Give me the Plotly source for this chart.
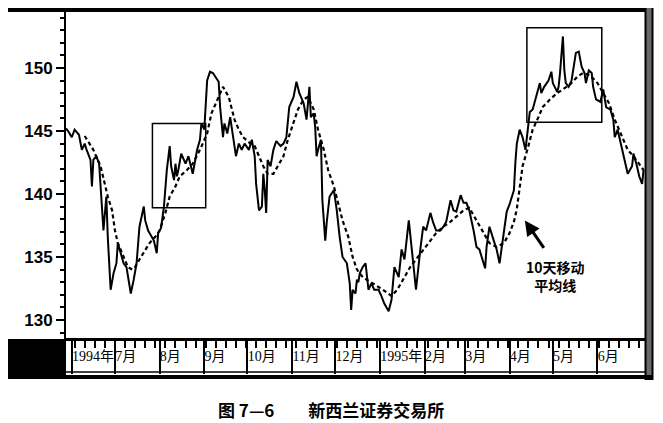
import plotly.graph_objects as go

# ---------------- data ----------------
price_dates = [
    "1994-05-28", "1994-05-30",
    "1994-06-01", "1994-06-03", "1994-06-06", "1994-06-08", "1994-06-10", "1994-06-11", "1994-06-14", "1994-06-15",
    "1994-06-16", "1994-06-18", "1994-06-20", "1994-06-22", "1994-06-23", "1994-06-25", "1994-06-26", "1994-06-28", "1994-06-30",
    "1994-07-02", "1994-07-03", "1994-07-05", "1994-07-07", "1994-07-09", "1994-07-12", "1994-07-14", "1994-07-16",
    "1994-07-18", "1994-07-21", "1994-07-22", "1994-07-24", "1994-07-28", "1994-07-30", "1994-07-31",
    "1994-08-02", "1994-08-04", "1994-08-06", "1994-08-08", "1994-08-09", "1994-08-11", "1994-08-12", "1994-08-13",
    "1994-08-14", "1994-08-16", "1994-08-19", "1994-08-21", "1994-08-24", "1994-08-27", "1994-08-29", "1994-08-30",
    "1994-09-01", "1994-09-03", "1994-09-05", "1994-09-07", "1994-09-10", "1994-09-11", "1994-09-12", "1994-09-13", "1994-09-14",
    "1994-09-15", "1994-09-17", "1994-09-19", "1994-09-20", "1994-09-21", "1994-09-23", "1994-09-25", "1994-09-27", "1994-09-29",
    "1994-10-02", "1994-10-04", "1994-10-05", "1994-10-06", "1994-10-07", "1994-10-09", "1994-10-11", "1994-10-12", "1994-10-13",
    "1994-10-14", "1994-10-15", "1994-10-17", "1994-10-19", "1994-10-21", "1994-10-24", "1994-10-26", "1994-10-28", "1994-10-30",
    "1994-11-02", "1994-11-04", "1994-11-06", "1994-11-09", "1994-11-11", "1994-11-13", "1994-11-14", "1994-11-16", "1994-11-17",
    "1994-11-18", "1994-11-19", "1994-11-21", "1994-11-22", "1994-11-24", "1994-11-25", "1994-11-27", "1994-11-30",
    "1994-12-02", "1994-12-04", "1994-12-06", "1994-12-09", "1994-12-11", "1994-12-12", "1994-12-13", "1994-12-15", "1994-12-16",
    "1994-12-17", "1994-12-18", "1994-12-20", "1994-12-22", "1994-12-24", "1994-12-26", "1994-12-28", "1994-12-31",
    "1995-01-02", "1995-01-04", "1995-01-07", "1995-01-09", "1995-01-11", "1995-01-14", "1995-01-16", "1995-01-18",
    "1995-01-21", "1995-01-23", "1995-01-24", "1995-01-26", "1995-01-29", "1995-01-31",
    "1995-02-02", "1995-02-05", "1995-02-07", "1995-02-09", "1995-02-12", "1995-02-14", "1995-02-16", "1995-02-19",
    "1995-02-21", "1995-02-23", "1995-02-26", "1995-02-28",
    "1995-03-02", "1995-03-04", "1995-03-07", "1995-03-09", "1995-03-11", "1995-03-14", "1995-03-15", "1995-03-16",
    "1995-03-18", "1995-03-21", "1995-03-23", "1995-03-25", "1995-03-28", "1995-03-30",
    "1995-04-01", "1995-04-04", "1995-04-05", "1995-04-06", "1995-04-08", "1995-04-10", "1995-04-12", "1995-04-14", "1995-04-15",
    "1995-04-17", "1995-04-19", "1995-04-20", "1995-04-22", "1995-04-23", "1995-04-25", "1995-04-28", "1995-04-30",
    "1995-05-01", "1995-05-04", "1995-05-05", "1995-05-06", "1995-05-08", "1995-05-09", "1995-05-10", "1995-05-12", "1995-05-14",
    "1995-05-16", "1995-05-17", "1995-05-19", "1995-05-21", "1995-05-23", "1995-05-24", "1995-05-26", "1995-05-28", "1995-05-29",
    "1995-05-31",
    "1995-06-03", "1995-06-05", "1995-06-07", "1995-06-10", "1995-06-12", "1995-06-13", "1995-06-15", "1995-06-18",
    "1995-06-20", "1995-06-22", "1995-06-25", "1995-06-26", "1995-06-28", "1995-06-30",
    "1995-07-02", "1995-07-03",
]
price_values = [
    145.2, 144.9,
    144.5, 145.1, 144.7, 143.5, 144.0, 143.6, 142.7, 140.6,
    142.7, 143.0, 142.4, 138.2, 137.1, 139.8, 136.6, 132.4, 133.7,
    134.5, 136.1, 135.3, 134.5, 134.2, 132.1, 133.2, 134.5,
    137.4, 139.0, 137.9, 137.1, 136.3, 135.3, 136.9,
    137.3, 139.0, 141.9, 143.8, 142.2, 141.1, 142.4, 141.4,
    141.9, 143.2, 142.4, 143.0, 141.6, 143.5, 144.3, 145.6,
    145.1, 149.0, 149.7, 149.6, 149.0, 148.9, 146.9, 145.3, 144.5,
    145.6, 144.8, 146.1, 145.3, 144.5, 143.0, 144.0, 143.5, 144.0,
    143.5, 144.3, 143.5, 143.0, 140.8, 138.7, 139.0, 141.6, 140.3,
    138.5, 142.7, 142.2, 143.5, 144.2, 143.8, 144.0, 144.5, 146.9,
    147.7, 148.9, 148.0, 147.2, 145.9, 148.5, 146.1, 146.4, 145.3,
    143.0, 143.5, 144.3, 139.5, 136.3, 137.7, 139.8, 140.3,
    138.7, 136.6, 135.0, 134.5, 132.9, 130.8, 132.4, 132.1, 133.2,
    133.0, 133.7, 134.2, 134.5, 132.4, 132.9, 132.4, 132.4,
    131.9, 131.3, 130.7, 131.6, 134.2, 133.4, 135.6, 134.8,
    137.9, 135.6, 134.8, 132.4, 135.6, 137.4,
    137.1, 138.5, 137.7, 137.1, 137.1, 137.4, 137.8, 139.5,
    138.7, 138.6, 139.9, 139.3,
    139.3, 138.7, 137.1, 135.8, 135.6, 134.5, 134.1, 135.8,
    137.4, 136.3, 135.6, 134.5, 136.9, 138.6,
    139.2, 140.3, 142.5, 144.0, 145.1, 144.5, 143.5, 145.3, 146.5,
    146.7, 147.5, 148.1, 148.8, 148.0, 148.5, 149.0, 149.7,
    148.8, 148.1, 148.5, 149.6, 152.5, 149.8, 148.8, 148.5, 149.0,
    150.4, 151.2, 151.3, 150.1, 149.6, 148.8, 149.8, 149.6, 148.5,
    147.5,
    147.3, 148.3, 146.9, 146.7, 145.9, 144.5, 145.1, 143.5,
    142.4, 141.6, 142.2, 143.2, 142.4, 141.4,
    140.8, 141.9,
]

ma_dates = [
    "1994-06-10", "1994-06-16", "1994-06-21", "1994-06-24", "1994-06-26", "1994-06-29",
    "1994-07-01", "1994-07-03", "1994-07-06", "1994-07-08", "1994-07-10", "1994-07-13", "1994-07-15",
    "1994-07-18", "1994-07-22", "1994-07-25", "1994-07-29",
    "1994-08-01", "1994-08-05", "1994-08-08", "1994-08-12", "1994-08-15", "1994-08-20", "1994-08-24", "1994-08-29",
    "1994-09-03", "1994-09-06", "1994-09-10", "1994-09-14", "1994-09-18", "1994-09-20", "1994-09-22", "1994-09-25", "1994-09-28",
    "1994-10-03", "1994-10-06", "1994-10-09", "1994-10-12", "1994-10-15", "1994-10-19", "1994-10-22", "1994-10-26", "1994-10-29",
    "1994-11-02", "1994-11-05", "1994-11-09", "1994-11-12", "1994-11-16", "1994-11-19", "1994-11-23", "1994-11-26", "1994-11-30",
    "1994-12-03", "1994-12-06", "1994-12-10", "1994-12-13", "1994-12-16", "1994-12-20", "1994-12-27",
    "1995-01-03", "1995-01-09", "1995-01-13", "1995-01-17", "1995-01-22", "1995-01-26", "1995-01-31",
    "1995-02-05", "1995-02-09", "1995-02-14", "1995-02-19", "1995-02-23", "1995-02-28",
    "1995-03-04", "1995-03-09", "1995-03-14", "1995-03-18", "1995-03-23", "1995-03-28",
    "1995-04-01", "1995-04-04", "1995-04-06", "1995-04-08", "1995-04-10", "1995-04-14", "1995-04-17", "1995-04-21",
    "1995-04-24", "1995-04-29",
    "1995-05-04", "1995-05-08", "1995-05-13", "1995-05-18", "1995-05-22", "1995-05-27",
    "1995-06-01", "1995-06-05", "1995-06-09", "1995-06-13", "1995-06-17", "1995-06-22", "1995-06-26",
    "1995-07-01", "1995-07-03",
]
ma_values = [
    144.6, 143.5, 142.2, 140.8, 139.8, 138.7,
    137.1, 136.1, 135.3, 134.8, 134.2, 134.0, 134.2,
    134.8, 135.6, 136.1, 136.6,
    137.1, 138.5, 139.8, 140.6, 141.4, 141.9, 142.4, 143.5,
    144.8, 146.4, 147.5, 148.5, 147.7, 146.9, 145.9, 145.1, 144.5,
    144.0, 143.8, 143.0, 142.2, 141.6, 141.6, 142.2, 143.0, 144.3,
    145.6, 146.7, 147.5, 147.7, 146.7, 145.1, 143.5, 141.9, 140.6,
    139.3, 137.9, 136.6, 135.0, 134.0, 133.4, 132.9,
    132.4, 131.9, 132.4, 133.2, 134.2, 134.8, 135.6,
    136.3, 136.9, 137.4, 137.8, 138.2, 138.7,
    138.9, 137.9, 136.9, 136.1, 135.8, 136.1,
    136.9, 137.8, 138.8, 140.6, 142.2, 143.8, 145.1, 146.1,
    146.9, 147.5,
    148.0, 148.3, 148.7, 149.3, 149.6, 149.4,
    148.8, 148.0, 147.2, 145.9, 144.8, 143.5, 143.0,
    142.2, 141.9,
]

month_ticks = ["1994-06-01", "1994-07-01", "1994-08-01", "1994-09-01", "1994-10-01", "1994-11-01",
               "1994-12-01", "1995-01-01", "1995-02-01", "1995-03-01", "1995-04-01", "1995-05-01",
               "1995-06-01"]
month_labels = ["1994年", "7月", "8月", "9月", "10月", "11月", "12月", "1995年", "2月", "3月",
                "4月", "5月", "6月"]
y_ticks = [130, 135, 140, 145, 150]

# highlighted boxes (start, end, low, high)
box_x0 = ["1994-07-27", "1995-04-13"]
box_x1 = ["1994-09-02", "1995-06-04"]
box_y0 = [138.9, 145.7]
box_y1 = [145.6, 153.2]

arrow_date, arrow_value = "1995-04-11 14:00", 137.9
label_date, label_value = "1995-05-02 17:00", 133.5

assert len(price_dates) == len(price_values)
assert len(ma_dates) == len(ma_values)

# ---------------- layout helpers (target pixel -> paper) ----------------
OFF = 8                      # page body margin of the html page
W, H = 663 - OFF, 423 - OFF
PL, PR, PT, PB = 66, 645, 12, 338   # plot area in target-picture pixels


def px_x(px):
    return (px - PL) / (PR - PL)


def px_y(py):
    return (PB - py) / (PB - PT)


fig = go.Figure()
fig.add_trace(go.Scatter(x=price_dates, y=price_values, mode="lines",
                         line=dict(color="black", width=2), hoverinfo="skip"))
fig.add_trace(go.Scatter(x=ma_dates, y=ma_values, mode="lines",
                         line=dict(color="black", width=2.2, dash="4px,3px"), hoverinfo="skip"))

shapes = []
for x0, x1, y0, y1 in zip(box_x0, box_x1, box_y0, box_y1):
    shapes.append(dict(type="rect", xref="x", yref="y", x0=x0, x1=x1, y0=y0, y1=y1,
                       line=dict(color="black", width=1.5), fillcolor="rgba(0,0,0,0)"))
shapes += [
    dict(type="rect", xref="paper", yref="paper", x0=px_x(4), x1=px_x(652), y0=px_y(12), y1=px_y(7),
         fillcolor="black", line=dict(width=0), layer="above"),
    dict(type="line", xref="paper", yref="paper", x0=px_x(4.5), x1=px_x(4.5), y0=px_y(7), y1=px_y(379),
         line=dict(color="black", width=1.5)),
    dict(type="rect", xref="paper", yref="paper", x0=px_x(645.5), x1=px_x(652.5), y0=px_y(379), y1=px_y(7),
         fillcolor="#6a6a6a", line=dict(color="black", width=2)),
    dict(type="rect", xref="paper", yref="paper", x0=px_x(4), x1=px_x(66), y0=px_y(379), y1=px_y(339),
         fillcolor="black", line=dict(width=0)),
    dict(type="line", xref="paper", yref="paper", x0=px_x(66), x1=px_x(645), y0=px_y(372), y1=px_y(372),
         line=dict(color="black", width=1.5)),
    dict(type="rect", xref="paper", yref="paper", x0=px_x(4), x1=px_x(652.5), y0=px_y(379), y1=px_y(375),
         fillcolor="black", line=dict(width=0)),
]

annotations = [
    dict(x=arrow_date, y=arrow_value, xref="x", yref="y", text="", showarrow=True,
         ax=20, ay=29, arrowhead=2, arrowsize=1, arrowwidth=3, arrowcolor="black"),
    dict(x=label_date, y=label_value, xref="x", yref="y", text="10天移动<br>平均线", showarrow=False,
         font=dict(family="Noto Sans CJK SC", size=14, color="black", weight="bold"),
         xanchor="center", yanchor="middle"),
    dict(x=px_x(331), y=px_y(409), xref="paper", yref="paper",
         text="图 7—6\u3000\u3000新西兰证券交易所", showarrow=False,
         font=dict(family="Noto Sans CJK SC", size=17, color="black", weight="bold"),
         xanchor="center", yanchor="middle"),
]

fig.update_layout(
    width=W, height=H,
    margin=dict(l=PL - OFF, r=W - (PR - OFF), t=PT - OFF, b=H - (PB - OFF), pad=0),
    paper_bgcolor="white", plot_bgcolor="white",
    showlegend=False,
    shapes=shapes, annotations=annotations,
    xaxis=dict(
        type="date", range=["1994-05-28", "1995-07-04"],
        showgrid=False, zeroline=False,
        showline=True, linecolor="black", linewidth=3,
        tickmode="array", tickvals=month_ticks, ticktext=month_labels,
        ticks="outside", ticklen=33, tickwidth=1.5, tickcolor="black",
        tickangle=0,
        ticklabelposition="outside right", ticklabelstandoff=3, ticklabelshift=-2,
        tickfont=dict(family="Liberation Serif, Noto Sans CJK SC", size=14, color="black"),
        minor=dict(ticks="outside", ticklen=7, tickwidth=1.5, tickcolor="black",
                   dtick=7 * 86400000, tick0="1994-06-03", showgrid=False),
    ),
    yaxis=dict(
        range=[128.57, 154.44],
        showgrid=False, zeroline=False,
        showline=True, linecolor="black", linewidth=2,
        tickmode="array", tickvals=y_ticks,
        ticks="outside", ticklen=8, tickwidth=2, tickcolor="black",
        tickfont=dict(family="Liberation Sans", size=17, color="black", weight="bold"),
        minor=dict(ticks="outside", ticklen=4, tickwidth=1.5, tickcolor="black", dtick=1, showgrid=False),
    ),
)

fig.write_html("out.html")
